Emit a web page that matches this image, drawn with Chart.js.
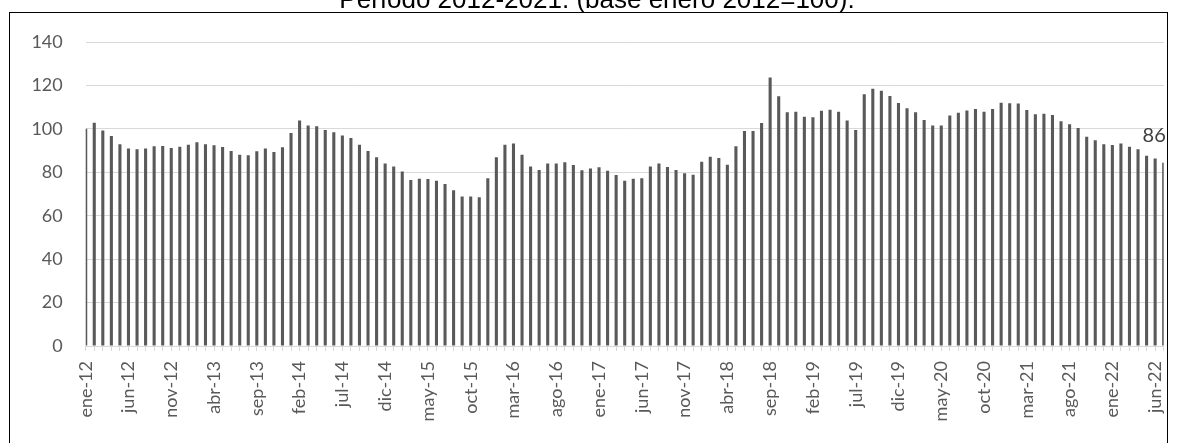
<!DOCTYPE html>
<html>
<head>
<meta charset="utf-8">
<script src="https://cdn.jsdelivr.net/npm/chart.js@4.4.0/dist/chart.umd.min.js"></script>
<style>
    body { margin: 0; background: #fff; overflow: hidden; }
    #caja { position: relative; width: 1178px; height: 443px; overflow: hidden; }
    #titulo {
        position: absolute; top: -14px; left: 8px; width: 1178px;
        text-align: center; font: 26px "Liberation Sans", Arial, sans-serif;
        line-height: 26px; color: #000; white-space: nowrap;
    }
    #marco {
        position: absolute; left: 9px; top: 12px; width: 1159px; height: 500px;
        box-sizing: border-box; border: 1.5px solid #000; pointer-events: none;
    }
</style>
</head>
<body>
<div id="caja">
    <canvas id="grafico"></canvas>
    <div id="titulo">Período 2012-2021. (base enero 2012=100).</div>
    <div id="marco"></div>
</div>
<script>
// Meses y años del eje horizontal
const meses = ['ene', 'feb', 'mar', 'abr', 'may', 'jun', 'jul', 'ago', 'sep', 'oct', 'nov', 'dic'];
const anios = ['12', '13', '14', '15', '16', '17', '18', '19', '20', '21', '22'];

// Índice mensual (base enero 2012 = 100), ene-12 a jul-22
const indice = [
    100, 102.8, 99.3, 96.7, 92.9, 90.9, 90.6, 91.0, 92.0, 92.1, 91.2, 91.8,
    92.7, 93.8, 92.9, 92.4, 91.6, 89.8, 88.1, 87.8, 89.7, 91.0, 89.3, 91.5,
    98.1, 103.9, 101.6, 101.2, 99.5, 98.4, 96.9, 95.8, 92.7, 89.8, 86.9, 84.1,
    82.7, 80.4, 76.4, 77.0, 76.9, 76.1, 74.6, 71.7, 68.9, 68.9, 68.5, 77.2,
    86.9, 92.7, 93.3, 88.1, 82.7, 81.0, 84.1, 84.0, 84.6, 83.4, 80.9, 81.7,
    82.3, 80.7, 78.7, 76.1, 77.0, 77.2, 82.7, 84.0, 82.4, 81.0, 79.5, 78.9,
    84.9, 87.2, 86.6, 83.5, 92.0, 99.0, 99.0, 102.7, 123.7, 115.0, 107.6, 107.9,
    105.6, 105.4, 108.3, 108.8, 107.9, 103.9, 99.5, 115.9, 118.5, 117.6, 115.1, 111.9,
    109.5, 107.6, 104.1, 101.6, 101.6, 106.1, 107.4, 108.5, 109.1, 107.9, 109.1, 112.0,
    111.8, 111.7, 108.7, 106.7, 107.0, 106.4, 103.5, 102.1, 100.4, 96.4, 94.8, 92.9,
    92.6, 93.2, 91.8, 90.6, 87.6, 86.4, 84.4
];

// Ticks del eje vertical
const ticksY = [0, 20, 40, 60, 80, 100, 120, 140];

// Barra con etiqueta de dato
const etiquetaIdx = 125;

const etiquetas = [];
anios.forEach(a => meses.forEach(m => etiquetas.push(`${m}-${a}`)));
etiquetas.length = indice.length;

const fuente = '"Lato", "Open Sans", sans-serif';

const pluginEtiqueta = {
    id: 'etiquetaDato',
    afterDatasetsDraw(chart) {
        const barra = chart.getDatasetMeta(0).data[etiquetaIdx];
        const ctx = chart.ctx;
        ctx.save();
        ctx.fillStyle = '#404040';
        ctx.font = `20px ${fuente}`;
        ctx.textAlign = 'center';
        ctx.textBaseline = 'bottom';
        ctx.fillText(Math.round(indice[etiquetaIdx]), barra.x - 1, barra.y - 13);
        ctx.restore();
    }
};

new Chart(document.getElementById('grafico'), {
    type: 'bar',
    data: {
        labels: etiquetas,
        datasets: [{
            data: indice,
            backgroundColor: '#595959',
            barPercentage: 0.36,
            categoryPercentage: 1
        }]
    },
    options: {
        responsive: true,
        maintainAspectRatio: false,
        animation: false,
        layout: { padding: { top: 42, right: 14.3, left: 0, bottom: 0 } },
        plugins: {
            legend: { display: false },
            tooltip: { enabled: false }
        },
        scales: {
            x: {
                offset: false,
                grid: {
                    offset: false,
                    drawOnChartArea: false,
                    tickLength: 5,
                    color: '#d9d9d9'
                },
                border: { color: '#d9d9d9', width: 1 },
                ticks: {
                    autoSkip: false,
                    maxRotation: 90,
                    minRotation: 90,
                    padding: 10,
                    color: '#595959',
                    font: { family: fuente, size: 18 },
                    callback: (v, i) => i % 5 === 0 ? etiquetas[i] : ''
                },
                afterFit: (escala) => {
                    escala.height = 97;
                    escala.paddingLeft = 0;
                    escala.paddingRight = 0;
                }
            },
            y: {
                min: 0,
                max: 140,
                afterBuildTicks: (escala) => { escala.ticks = ticksY.map(v => ({ value: v })); },
                grid: { color: '#d9d9d9', drawTicks: false },
                border: { display: false },
                ticks: {
                    padding: 23,
                    color: '#595959',
                    font: { family: fuente, size: 18 }
                },
                afterFit: (escala) => { escala.width = 85.7; }
            }
        }
    },
    plugins: [pluginEtiqueta]
});
</script>
</body>
</html>
